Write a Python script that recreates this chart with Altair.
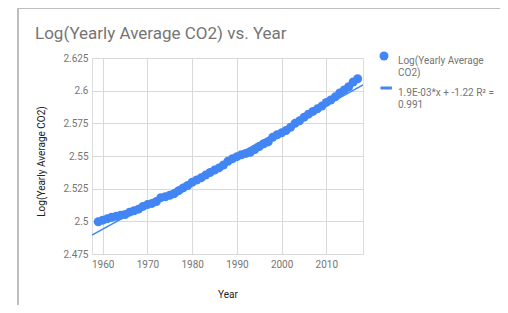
import altair as alt
import pandas as pd

years = list(range(1959, 2018))
log_co2 = [
    2.4997, 2.5009, 2.5019, 2.5031, 2.5038, 2.5047, 2.5052, 2.5070, 2.5081, 2.5093,
    2.5114, 2.5128, 2.5137, 2.5152, 2.5181, 2.5188, 2.5200, 2.5212, 2.5235, 2.5256,
    2.5274, 2.5299, 2.5316, 2.5333, 2.5354, 2.5374, 2.5392, 2.5409, 2.5431, 2.5460,
    2.5479, 2.5495, 2.5510, 2.5520, 2.5528, 2.5549, 2.5573, 2.5594, 2.5608, 2.5643,
    2.5663, 2.5677, 2.5695, 2.5720, 2.5750, 2.5769, 2.5796, 2.5820, 2.5841, 2.5861,
    2.5882, 2.5910, 2.5929, 2.5953, 2.5983, 2.6006, 2.6030, 2.6066, 2.6091,
]
series_names = ["Log(Yearly Average CO2)", "1.9E-03*x + -1.22 R² = 0.991"]
y_ticks = [2.475, 2.5, 2.525, 2.55, 2.575, 2.6, 2.625]
x_ticks = [1960, 1970, 1980, 1990, 2000, 2010]

BLUE = "#4285F4"
FONT = "Roboto"

df = pd.DataFrame({"Year": years, "LogCO2": log_co2, "series": series_names[0]})

xscale = alt.Scale(domain=[1957.6, 2018.2], nice=False, zero=False)
yscale = alt.Scale(domain=[2.475, 2.625], nice=False, zero=False)

xaxis = alt.Axis(values=x_ticks, tickCount=20, format="d", title="Year", tickSize=0, domain=False,
                 labelPadding=5, labelFontSize=10, labelColor="#757575", labelFont=FONT,
                 titleFont=FONT, titleFontSize=10, titleColor="#222222", titleFontWeight="normal",
                 titleY=40, titleBaseline="middle", gridColor="#d9d9d9", labelFlush=False,
                 labelOverlap=False)
yaxis = alt.Axis(values=y_ticks, tickCount=20, format=".3~f", title="Log(Yearly Average CO2)",
                 tickSize=0, domain=False, labelPadding=4, labelFontSize=10,
                 labelColor="#757575", labelFont=FONT, titleFont=FONT, titleFontSize=10,
                 titleColor="#222222", titleFontWeight="normal", titleX=-51, titleY=103,
                 titleAlign="center", titleBaseline="middle", gridColor="#d9d9d9",
                 labelOverlap=False)

label_expr = ("split(datum.label == '" + series_names[0] +
              "' ? 'Log(Yearly Average|CO2)' : '1.9E-03*x + -1.22 R² =|0.991', '|')")

points = alt.Chart(df).mark_point(filled=True, opacity=1, size=81, color=BLUE).encode(
    x=alt.X("Year:Q", scale=xscale, axis=xaxis),
    y=alt.Y("LogCO2:Q", scale=yscale, axis=yaxis),
    shape=alt.Shape(
        "series:N",
        scale=alt.Scale(domain=series_names,
                        range=["circle", "M-0.78,-0.33H1.76V0.33H-0.78Z"]),
        legend=alt.Legend(
            title=None, orient="none", legendX=287, legendY=-7, padding=0,
            symbolFillColor=BLUE, symbolStrokeWidth=0, symbolSize=81,
            labelFont=FONT, labelFontSize=10, labelColor="#757575",
            labelExpr=label_expr,
            labelLimit=200, labelOffset=9, rowPadding=5, labelBaseline="top",
        ),
    ),
)

trend = alt.Chart(df).transform_regression(
    "Year", "LogCO2", extent=[1957.6, 2018.2]
).mark_line(color=BLUE, strokeWidth=1.5, clip=True).encode(
    x=alt.X("Year:Q", scale=xscale),
    y=alt.Y("LogCO2:Q", scale=yscale),
)

card_left = alt.Chart(df).mark_rule(color="#bdbdbd", strokeWidth=1).encode(
    x=alt.value(-74), y=alt.value(-50), y2=alt.value(255)
)
card_top = alt.Chart(df).mark_rule(color="#bdbdbd", strokeWidth=1).encode(
    x=alt.value(-74), x2=alt.value(410), y=alt.value(-50)
)

chart = alt.layer(card_left, card_top, trend, points).properties(
    width=271,
    height=196,
    padding={"left": 84, "top": 50, "right": 137, "bottom": 51},
    autosize=alt.AutoSizeParams(type="none"),
    title=alt.TitleParams(
        "Log(Yearly Average CO2) vs. Year", anchor="start", frame="group",
        dx=-57, dy=69, font=FONT, fontSize=17, fontWeight="normal", color="#757575",
        baseline="alphabetic", offset=21,
    ),
).configure_view(stroke=None).configure(background="white")

chart.save("out.html", embed_options={"renderer": "svg", "actions": False})
